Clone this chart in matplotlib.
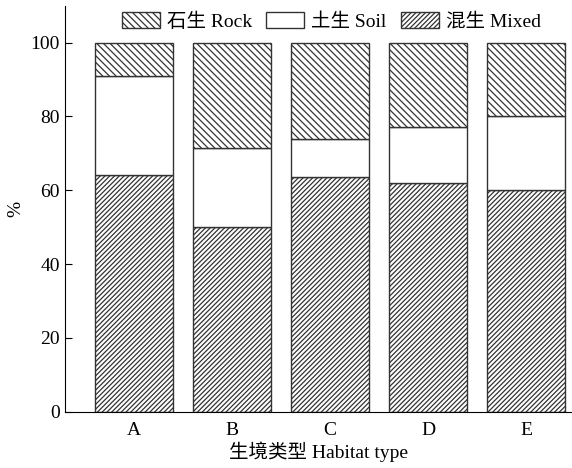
import matplotlib.pyplot as plt
import numpy as np

plt.rcParams['font.family'] = ['Liberation Serif', 'Noto Sans CJK SC']
plt.rcParams['hatch.linewidth'] = 0.9
plt.rcParams['hatch.color'] = '#333333'

# ----- Data -----
habitats = ["A", "B", "C", "D", "E"]
mixed = [64, 50, 63.5, 62, 60]
soil = [27, 21.5, 10.5, 15, 20]
rock = [9, 28.5, 26, 23, 20]

x = np.arange(len(habitats))
mixed = np.array(mixed)
soil = np.array(soil)
rock = np.array(rock)

fig = plt.figure(figsize=(5.72, 4.68), dpi=100)
ax = fig.add_axes([0.114, 0.12, 0.886, 0.868])

ec = '#333333'
w = 0.8
ax.bar(x, mixed, w, color='white', edgecolor=ec, hatch='///////', linewidth=1, label='混生 Mixed')
ax.bar(x, soil, w, bottom=mixed, color='white', edgecolor=ec, linewidth=1, label='土生 Soil')
ax.bar(x, rock, w, bottom=mixed + soil, color='white', edgecolor=ec, hatch='\\\\\\\\\\', linewidth=1, label='石生 Rock')

ax.set_xlim(-0.705, 4.47)
ax.set_ylim(0, 110)
ax.set_yticks([0, 20, 40, 60, 80, 100])
ax.set_xticks(x)
ax.set_xticklabels(habitats)
ax.tick_params(axis='y', direction='in', length=5, labelsize=14, pad=4)
ax.tick_params(axis='x', length=0, labelsize=14, pad=7)
ax.spines['top'].set_visible(False)
ax.spines['right'].set_visible(False)
ax.set_ylabel('%', fontsize=14, labelpad=4)
ax.set_xlabel('生境类型 Habitat type', fontsize=14, labelpad=2)

h, l = ax.get_legend_handles_labels()
ax.legend(h[::-1], l[::-1], loc='upper center', ncol=3, frameon=False, fontsize=14,
          bbox_to_anchor=(0.525, 1.027), handlelength=1.95, handleheight=0.9,
          columnspacing=0.75, handletextpad=0.35)

plt.savefig("out.png", dpi=100)
